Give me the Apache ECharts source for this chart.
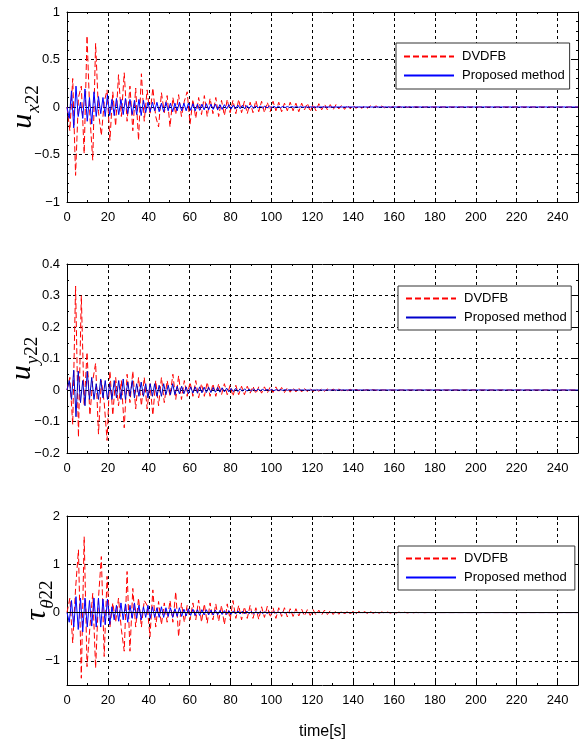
<!DOCTYPE html>
<html><head><meta charset="utf-8">
<script src="https://cdn.jsdelivr.net/npm/echarts@6/dist/echarts.min.js"></script>
<style>html,body{margin:0;padding:0;background:#fff}#c{width:582px;height:742px}</style>
</head><body><div id="c"></div>
<script>
// sampling of the recorded signals (seconds)
const redStep = 1.4;
const blueStep = 1.1;
const tEnd = 250;

const xTicks = [0, 20, 40, 60, 80, 100, 120, 140, 160, 180, 200, 220, 240];
const tauTicks = [-1, 0, 1, 2];

// Panel 1: u_x22
const uxDVDFB = [
0, -0.25, 0.3, -0.72, 0.1, 0.22, -0.49, 0.75, -0.1, -0.56,
0.67, -0.05, -0.3, 0.05, 0.18, -0.35, 0.16, -0.2, 0.34, -0.1,
0.36, -0.15, 0.22, -0.25, 0.2, -0.35, 0.35, -0.15, 0.18, -0.08,
0.2, -0.1, -0.21, 0.15, -0.06, 0.12, -0.21, 0.1, -0.08, 0.13,
-0.1, 0.06, 0.16, -0.18, 0.08, -0.12, 0.1, -0.08, 0.12, -0.1,
0.09, -0.07, 0.1, -0.1, 0.07, -0.09, 0.08, -0.06, 0.07, -0.07,
0.08, -0.06, 0.06, -0.07, 0.05, -0.06, 0.07, -0.05, 0.06, -0.06,
0.05, -0.05, 0.06, -0.04, 0.05, -0.05, 0.04, -0.04, 0.05, -0.04,
0.04, -0.05, 0.04, -0.03, 0.04, -0.05, 0.03, -0.04, 0.035, -0.03,
0.03, -0.03, 0.025, -0.03, 0.025, -0.02, 0.02, -0.025, 0.02, -0.02,
0.02, -0.015, 0.015, -0.015, 0.015, -0.012, 0.012, -0.01, 0.012, -0.01,
0.01, -0.008, 0.01, -0.008, 0.008, -0.006, 0.007, -0.005, 0.006, -0.005,
0.005, -0.004, 0.004, -0.003, 0.003, -0.002, 0.002, -0.002, 0.001, -0.001,
0];
const uxProposed = [
0, -0.12, 0.17, -0.22, 0.22, -0.1, 0.05, -0.12, 0.19, -0.15,
0.1, -0.18, 0.16, -0.1, 0.11, -0.07, 0.1, -0.1, 0.13, -0.09,
0.08, -0.09, 0.09, -0.08, 0.08, -0.08, 0.09, -0.07, 0.08, -0.08,
0.07, -0.08, 0.08, -0.09, 0.07, -0.06, 0.05, -0.05, 0.05, -0.04,
0.05, -0.05, 0.04, -0.05, 0.05, -0.04, 0.04, -0.05, 0.04, -0.04,
0.05, -0.04, 0.04, -0.04, 0.04, -0.035, 0.035, -0.04, 0.03, -0.035,
0.03, -0.03, 0.035, -0.03, 0.03, -0.025, 0.03, -0.03, 0.025, -0.025,
0.025, -0.02, 0.025, -0.02, 0.02, -0.02, 0.02, -0.018, 0.018, -0.02,
0.015, -0.015, 0.015, -0.015, 0.012, -0.012, 0.012, -0.012, 0.01, -0.01,
0.01, -0.01, 0.008, -0.008, 0.008, -0.007, 0.006, -0.006, 0.005, -0.005,
0.005, -0.004, 0.004, -0.003, 0.003, -0.003, 0.002, -0.002, 0.001, -0.001,
0];

// Panel 2: u_y22
const uyDVDFB = [
0, 0.04, -0.11, 0.33, -0.15, 0.3, -0.05, 0.12, -0.08, 0.03,
0.085, -0.14, 0.03, -0.04, -0.16, 0.06, -0.08, 0.04, -0.05, 0.03,
-0.12, 0.05, -0.04, 0.06, -0.06, 0.04, -0.05, 0.04, -0.06, 0.02,
-0.08, 0.03, -0.05, 0.04, -0.04, 0.03, -0.02, 0.05, -0.03, 0.045,
-0.03, 0.03, -0.02, 0.025, -0.02, 0.03, -0.025, 0.02, -0.02, 0.025,
-0.02, 0.02, -0.02, 0.02, -0.015, 0.02, -0.015, 0.015, -0.02, 0.015,
-0.015, 0.012, -0.015, 0.012, -0.01, 0.012, -0.012, 0.01, -0.01, 0.01,
-0.01, 0.01, -0.008, 0.01, -0.008, 0.008, -0.008, 0.007, -0.007, 0.007,
-0.006, 0.006, -0.006, 0.005, -0.005, 0.005, -0.005, 0.004, -0.004, 0.004,
-0.004, 0.003, -0.003, 0.003, -0.003, 0.003, -0.002, 0.002, -0.002, 0.002,
-0.002, 0.002, -0.002, 0.002, -0.001, 0.001, -0.001, 0.001, -0.001, 0.001,
0, 0, 0, 0, 0, 0, 0, 0, 0, 0,
0, 0, 0, 0, 0, 0, 0, 0, 0, 0,
0];
const uyProposed = [
0, 0.03, -0.03, 0.063, -0.085, 0.06, -0.04, 0.03, -0.05, 0.06,
-0.03, 0.04, -0.03, 0.02, -0.03, 0.035, -0.025, 0.03, -0.03, 0.02,
-0.03, 0.03, -0.025, 0.03, -0.03, 0.035, -0.03, 0.025, -0.02, 0.03,
-0.025, 0.02, -0.02, 0.025, -0.02, 0.02, -0.025, 0.02, -0.02, 0.02,
-0.02, 0.015, -0.02, 0.02, -0.015, 0.015, -0.015, 0.02, -0.015, 0.012,
-0.012, 0.012, -0.012, 0.01, -0.012, 0.01, -0.01, 0.01, -0.01, 0.01,
-0.009, 0.009, -0.008, 0.009, -0.008, 0.008, -0.007, 0.008, -0.007, 0.007,
-0.006, 0.006, -0.006, 0.005, -0.005, 0.005, -0.005, 0.004, -0.004, 0.004,
-0.004, 0.003, -0.003, 0.003, -0.003, 0.003, -0.002, 0.002, -0.002, 0.002,
-0.002, 0.002, -0.002, 0.001, -0.001, 0.001, -0.001, 0.001, -0.001, 0.001,
0, 0, 0, 0, 0, 0, 0, 0, 0, 0,
0];

// Panel 3: tau_theta22
const tauDVDFB = [
0, 0.3, -0.63, 0.5, 1.3, -1.36, 1.57, -1.12, -0.3, 0.4,
-1.15, 0.3, 1.16, -0.91, 0.75, -0.3, 0.2, -0.2, 0.3, -0.35,
-0.8, 0.85, -0.8, 0.5, -0.3, 0.3, -0.3, 0.25, 0.15, -0.5,
0.47, -0.3, 0.23, -0.25, 0.2, -0.2, 0.25, -0.2, 0.43, -0.5,
0.2, -0.2, 0.15, -0.15, 0.2, -0.15, 0.26, -0.2, 0.18, -0.22,
0.2, -0.15, 0.18, -0.18, 0.15, -0.25, 0.18, -0.15, 0.25, -0.12,
0.15, -0.15, 0.12, -0.12, 0.15, -0.12, 0.1, -0.14, 0.12, -0.1,
0.13, -0.1, 0.1, -0.12, 0.1, -0.08, 0.1, -0.09, 0.08, -0.08,
0.08, -0.07, 0.07, -0.07, 0.06, -0.06, 0.06, -0.05, 0.05, -0.05,
0.05, -0.04, 0.04, -0.04, 0.04, -0.035, 0.035, -0.03, 0.03, -0.03,
0.03, -0.025, 0.025, -0.02, 0.02, -0.02, 0.02, -0.015, 0.015, -0.015,
0.012, -0.012, 0.01, -0.01, 0.01, -0.008, 0.008, -0.007, 0.006, -0.006,
0.005, -0.004, 0.004, -0.003, 0.003, -0.002, 0.002, -0.002, 0.001, -0.001,
0];
const tauProposed = [
0, -0.2, 0.25, -0.3, 0.33, -0.35, 0.3, -0.4, 0.3, -0.3,
0.25, -0.28, 0.3, -0.3, 0.3, -0.3, 0.28, -0.25, 0.28, -0.25,
0.12, -0.15, 0.15, -0.18, 0.2, -0.15, 0.18, -0.2, 0.15, -0.12,
0.2, -0.12, 0.15, -0.15, 0.12, -0.1, 0.15, -0.12, 0.12, -0.1,
0.1, -0.1, 0.12, -0.1, 0.1, -0.08, 0.1, -0.1, 0.08, -0.08,
0.1, -0.08, 0.07, -0.07, 0.08, -0.06, 0.07, -0.06, 0.06, -0.06,
0.06, -0.05, 0.06, -0.05, 0.05, -0.05, 0.05, -0.045, 0.045, -0.04,
0.04, -0.04, 0.04, -0.035, 0.035, -0.03, 0.035, -0.03, 0.03, -0.03,
0.03, -0.025, 0.025, -0.025, 0.02, -0.02, 0.02, -0.02, 0.018, -0.018,
0.015, -0.015, 0.015, -0.012, 0.012, -0.01, 0.01, -0.01, 0.008, -0.008,
0.007, -0.006, 0.005, -0.005, 0.004, -0.004, 0.003, -0.003, 0.002, -0.002,
0];

function toPairs(vals, step) {
  const out = vals.map((v, i) => [Math.round(i * step * 100) / 100, v]);
  out.push([tEnd, 0]);
  return out;
}

const FONT = 'Liberation Sans';
const SERIF = 'Liberation Serif';
const minus = v => String(Math.round(v * 1000) / 1000).replace('-', '\u2212');

const grids = [
  { left: 67, top: 12, width: 511, height: 190 },
  { left: 67, top: 264, width: 511, height: 189 },
  { left: 67, top: 516, width: 511, height: 169 }
].map(g => Object.assign(g, { containLabel: false, outerBoundsMode: 'none' }));

const dashGrid = { show: true, lineStyle: { color: '#000', width: 1, type: [3, 3] } };

function xBottom(g, extra) {
  return Object.assign({
    type: 'value', gridIndex: g, min: 0, max: 250, interval: 20, position: 'bottom',
    axisLine: { show: true, onZero: false, lineStyle: { color: '#000', width: 1 } },
    axisTick: { show: true, inside: true, length: 4, lineStyle: { color: '#000' } },
    minorTick: { show: true, splitNumber: 2, length: 2, lineStyle: { color: '#000' } },
    splitLine: dashGrid,
    axisLabel: { show: true, showMaxLabel: false, margin: 9, color: '#000', fontFamily: FONT, fontSize: 13, formatter: minus }
  }, extra || {});
}
function xTop(g) {
  return {
    type: 'value', gridIndex: g, min: 0, max: 250, interval: 20, position: 'top',
    axisLine: { show: true, onZero: false, lineStyle: { color: '#000', width: 1 } },
    axisTick: { show: true, inside: true, length: 4, lineStyle: { color: '#000' } },
    minorTick: { show: true, splitNumber: 2, length: 2, lineStyle: { color: '#000' } },
    splitLine: { show: false }, axisLabel: { show: false }
  };
}
function yLeft(g, o) {
  return Object.assign({
    type: 'value', gridIndex: g, position: 'left',
    axisLine: { show: true, onZero: false, lineStyle: { color: '#000', width: 1 } },
    axisTick: { show: true, inside: true, length: 4, lineStyle: { color: '#000' } },
    minorTick: { show: true, splitNumber: o.minor || 2, length: 2, lineStyle: { color: '#000' } },
    splitLine: dashGrid,
    axisLabel: { margin: 7, color: '#000', fontFamily: FONT, fontSize: 13, formatter: minus },
    nameLocation: 'middle', nameRotate: 90, nameMoveOverlap: false
  }, o.cfg);
}
function yRight(g, o) {
  return Object.assign({
    type: 'value', gridIndex: g, position: 'right',
    axisLine: { show: true, onZero: false, lineStyle: { color: '#000', width: 1 } },
    axisTick: { show: true, inside: true, length: 4, lineStyle: { color: '#000' } },
    minorTick: { show: true, splitNumber: o.minor || 2, length: 2, lineStyle: { color: '#000' } },
    splitLine: { show: false }, axisLabel: { show: false }
  }, o.cfg);
}

const richName = {
  u: { fontFamily: SERIF, fontStyle: 'italic', fontSize: 30, color: '#000' },
  s: { fontFamily: SERIF, fontStyle: 'italic', fontSize: 19, color: '#000', padding: [20, 0, 0, 1] },
  d: { fontFamily: SERIF, fontSize: 19, color: '#000', padding: [20, 0, 0, 0] }
};

const yCfg = [
  { minor: 5, cfg: { min: -1, max: 1, interval: 0.5, name: '{u|u}{s|x}{d|22}', nameGap: 24, nameTextStyle: { rich: richName } } },
  { minor: 2, cfg: { min: -0.2, max: 0.4, interval: 0.1, name: '{u|u}{s|y}{d|22}', nameGap: 25, nameTextStyle: { rich: richName } } },
  { minor: 2, cfg: { min: -1.5, max: 2, interval: 0.5, name: '{u|\u03c4}{s|\u03b8}{d|22}', nameGap: 10, nameTextStyle: { rich: richName } } }
];
// panel 3 labels/ticks only at integers
yCfg[2].cfg.axisLabel = { margin: 7, color: '#000', fontFamily: FONT, fontSize: 13, formatter: minus, customValues: tauTicks };
yCfg[2].cfg.axisTick = { show: true, inside: true, length: 4, lineStyle: { color: '#000' }, customValues: tauTicks };

const xAxes = [], yAxes = [];
for (let g = 0; g < 3; g++) {
  xAxes.push(xBottom(g, g === 2 ? { name: 'time[s]', nameLocation: 'middle', nameGap: 39, nameMoveOverlap: false, nameTextStyle: { fontFamily: FONT, fontSize: 16, color: '#000' } } : null));
  xAxes.push(xTop(g));
  const yl = yLeft(g, yCfg[g]);
  if (g === 2) yl.minorTick = { show: false };
  yAxes.push(yl);
  const yr = yRight(g, { minor: yCfg[g].minor, cfg: { min: yCfg[g].cfg.min, max: yCfg[g].cfg.max, interval: yCfg[g].cfg.interval } });
  if (g === 2) { yr.minorTick = { show: false }; yr.axisTick = { show: true, inside: true, length: 4, lineStyle: { color: '#000' }, customValues: tauTicks }; }
  yAxes.push(yr);
}

const panels = [
  { red: uxDVDFB, blue: uxProposed, redName: 'DVDFB', blueName: 'Proposed method', blueColor: '#0000ff' },
  { red: uyDVDFB, blue: uyProposed, redName: 'DVDFB ', blueName: 'Proposed method ', blueColor: '#0000cc' },
  { red: tauDVDFB, blue: tauProposed, redName: 'DVDFB  ', blueName: 'Proposed method  ', blueColor: '#0000ff', zeroLine: true }
];

const series = [];
panels.forEach((p, g) => {
  series.push({
    name: p.redName, type: 'line', xAxisIndex: 2 * g, yAxisIndex: 2 * g,
    data: toPairs(p.red, redStep), symbol: 'none', showSymbol: false,
    lineStyle: { color: '#ff0000', width: 1, type: [6, 3] }, itemStyle: { color: '#ff0000' },
    z: 3, silent: true
  });
  const b = {
    name: p.blueName, type: 'line', xAxisIndex: 2 * g, yAxisIndex: 2 * g,
    data: toPairs(p.blue, blueStep), symbol: 'none', showSymbol: false,
    lineStyle: { color: p.blueColor, width: 1 }, itemStyle: { color: p.blueColor },
    z: 4, silent: true
  };
  if (p.zeroLine) {
    b.markLine = { silent: true, symbol: 'none', label: { show: false }, lineStyle: { color: '#000', width: 1, type: 'solid' }, data: [{ yAxis: 0 }] };
  }
  series.push(b);
});

const legendBase = {
  orient: 'vertical', itemWidth: 50, itemHeight: 14, itemGap: 6,
  borderColor: '#333', borderWidth: 1, backgroundColor: '#fff',
  itemStyle: { opacity: 0, borderWidth: 0 },
  textStyle: { fontFamily: FONT, fontSize: 13, color: '#000', padding: [0, 0, 0, 3] }, selectedMode: false, z: 10
};
const legends = [
  Object.assign({}, legendBase, { left: 396, top: 43, padding: [7, 5, 7, 7], data: [panels[0].redName, panels[0].blueName] }),
  Object.assign({}, legendBase, { left: 398, top: 286, padding: [6, 1, 6, 7], data: [panels[1].redName, panels[1].blueName] }),
  Object.assign({}, legendBase, { left: 398, top: 546, padding: [6, 1, 6, 7], data: [panels[2].redName, panels[2].blueName] })
];

const chart = echarts.init(document.getElementById('c'), null, { renderer: 'canvas' });
chart.setOption({
  animation: false,
  backgroundColor: '#fff',
  grid: grids,
  xAxis: xAxes,
  yAxis: yAxes,
  legend: legends,
  series: series
});
</script></body></html>
